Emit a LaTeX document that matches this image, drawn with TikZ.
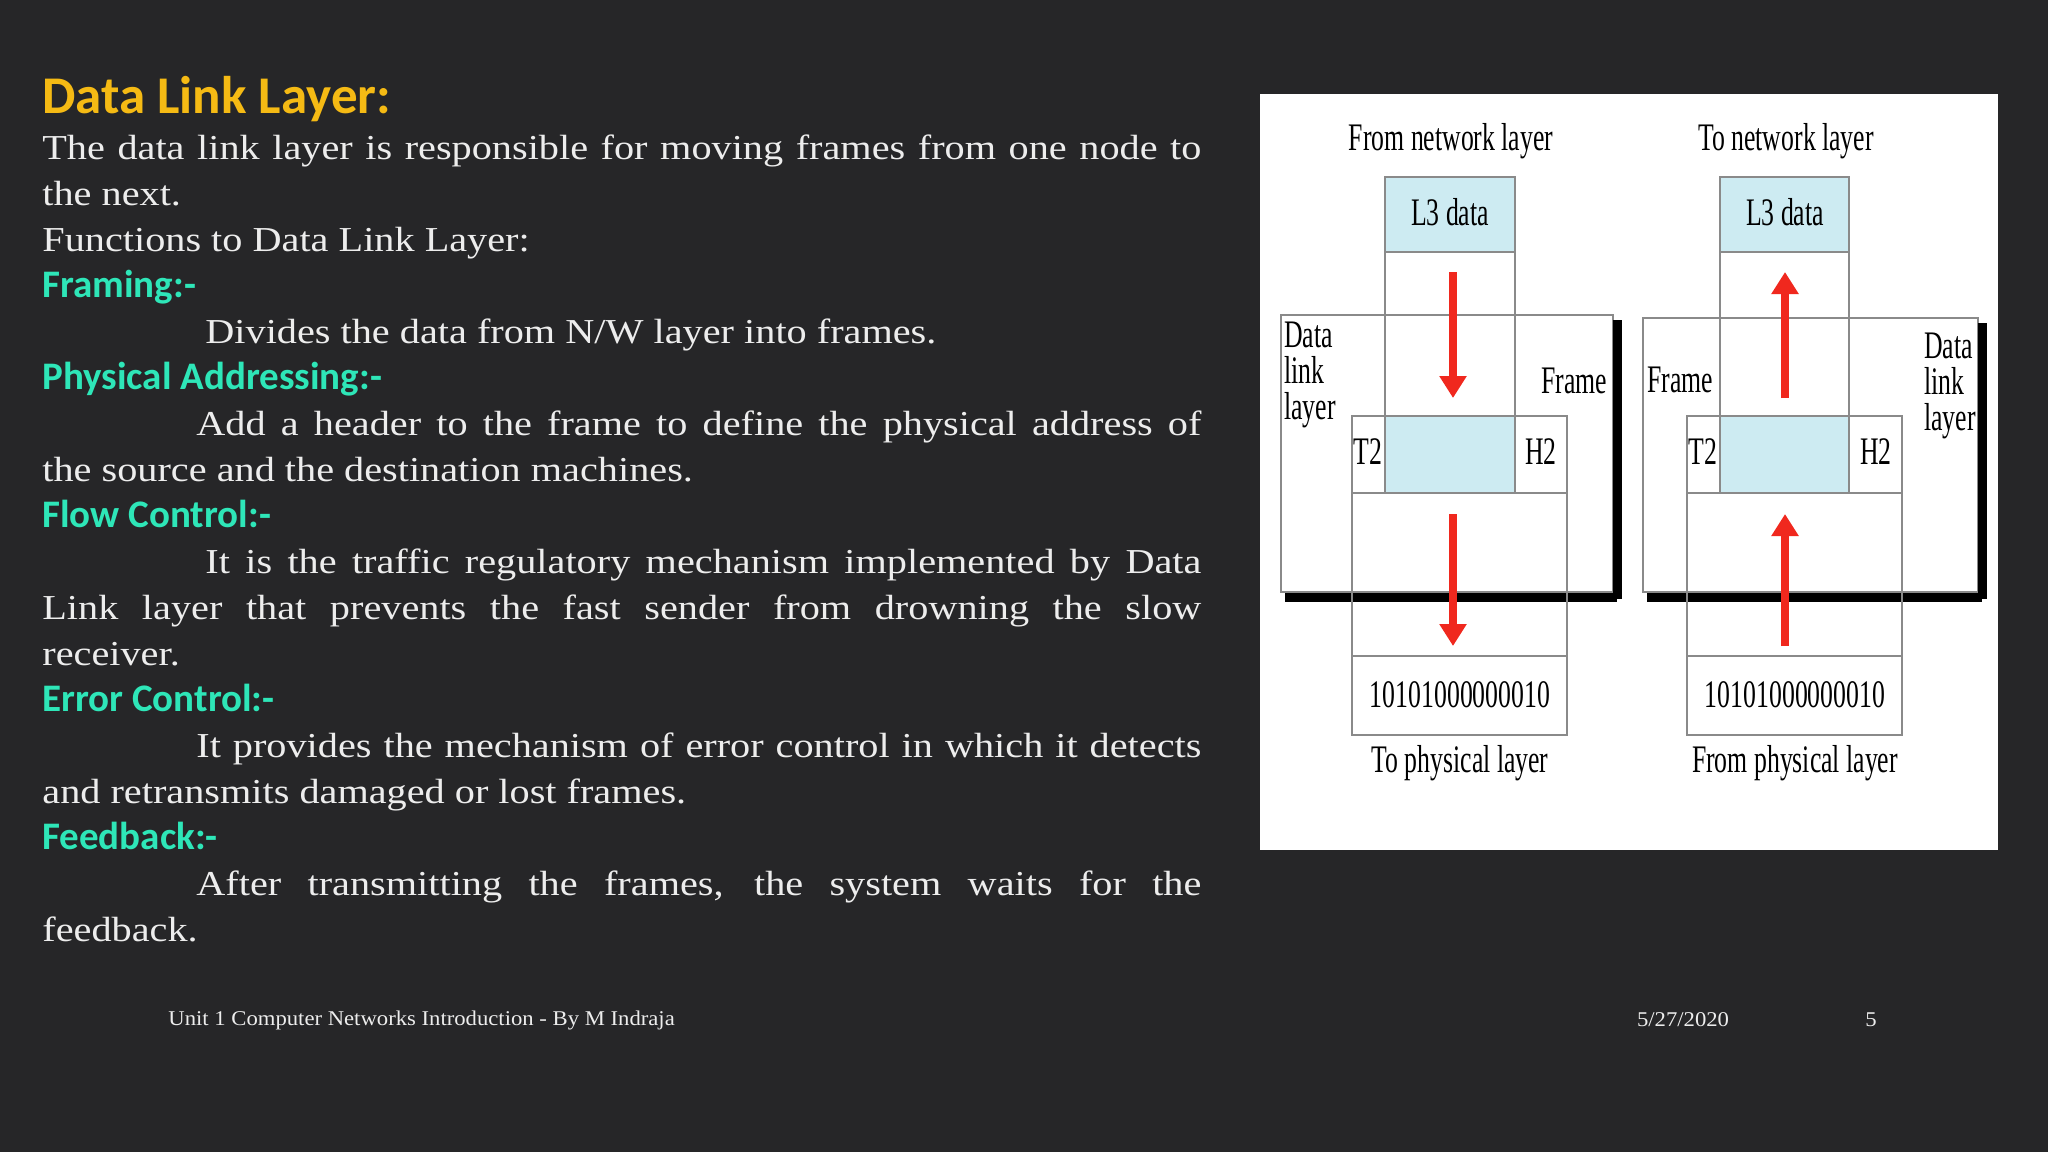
\documentclass[tikz,border=0pt]{standalone}
\usepackage{fontspec}
\setmainfont{Liberation Serif}
\newfontfamily\headf{Carlito}
\newfontfamily\bodyf[FakeStretch=1.15]{Liberation Serif}
\newfontfamily\footf[FakeStretch=1.08]{Liberation Serif}
\usetikzlibrary{arrows.meta}
\definecolor{bgc}{HTML}{262628}
\definecolor{titlec}{HTML}{F5BA14}
\definecolor{headc}{HTML}{2EE6B8}
\definecolor{bodyc}{HTML}{EDEDED}
\definecolor{lblue}{HTML}{CDEBF2}
\definecolor{boxl}{HTML}{8A8A8A}
\definecolor{redar}{HTML}{F0281E}
\tikzset{
  dlab/.style={font=\fontsize{19.5}{19.5}\selectfont, xscale=0.66, text=black, inner sep=0pt},
  gbox/.style={draw=boxl, line width=0.6pt},
  redarrow/.style={draw=redar, line width=4pt, -{Triangle[width=13pt,length=11pt]}},
  shadowline/.style={line width=4.5pt, black}
}
\newcommand{\hd}[1]{{\headf\bfseries\color{headc}\fontsize{19.5}{23}\selectfont#1}}
\begin{document}
\begin{tikzpicture}[x=0.5pt,y=-0.5pt]
\fill[bgc] (0,0) rectangle (2048,1152);
\useasboundingbox (0,0) rectangle (2048,1152);
% slide text
\node (txt) [anchor=north west, inner sep=0pt, text width=579.5pt, align=justify, text=bodyc,
  font=\bodyf\fontsize{17.5}{23}\selectfont] at (42,76) {%
{\headf\bfseries\color{titlec}\fontsize{26.5}{27}\selectfont Data Link Layer:}\par
The data link layer is responsible for moving frames from one node to\linebreak the next.\par
Functions to Data Link Layer:\par
\hd{Framing:-}\par
\hspace*{81.5pt}Divides the data from N/W layer into frames.\par
\hd{Physical Addressing:-}\par
\hspace*{77pt}Add a header to the frame to define the physical address of\linebreak the source and the destination machines.\par
\hd{Flow Control:-}\par
\hspace*{81.5pt}It is the traffic regulatory mechanism implemented by Data\linebreak Link layer that prevents the fast sender from drowning the slow\linebreak receiver.\par
\hd{Error Control:-}\par
\hspace*{77pt}It provides the mechanism of error control in which it detects\linebreak and retransmits damaged or lost frames.\par
\hd{Feedback:-}\par
\hspace*{77pt}After transmitting the frames, the system waits for the\linebreak feedback.\par};
% footer
\node (foot) [anchor=west, text=bodyc, font=\footf\fontsize{10.5}{12}\selectfont, inner sep=0pt] at (168,1020) {Unit 1 Computer Networks Introduction - By M Indraja};
\node (date) [text=bodyc, font=\footf\fontsize{10.5}{12}\selectfont, inner sep=0pt] at (1683,1020) {5/27/2020};
\node (pg) [text=bodyc, font=\footf\fontsize{10.5}{12}\selectfont, inner sep=0pt] at (1871,1020) {5};
% panel
\fill[white] (1260,94) rectangle (1998,850);
% ---------- left diagram ----------
\draw[gbox, fill=white] (1281,315) rectangle (1613,592);
\draw[shadowline] (1285,597) -- (1617,597);
\draw[shadowline] (1617,320) -- (1617,599);
\draw[gbox, fill=lblue] (1385,177) rectangle (1515,252);
\draw[gbox] (1385,252) -- (1385,416) (1515,252) -- (1515,416);
\draw[gbox, fill=white] (1352,416) rectangle (1567,493);
\fill[lblue] (1385,416) rectangle (1515,493);
\draw[gbox] (1385,416) -- (1385,493) (1515,416) -- (1515,493) (1352,416) rectangle (1567,493);
\draw[gbox] (1352,493) -- (1352,656) (1567,493) -- (1567,656);
\draw[gbox] (1352,656) rectangle (1567,735);
\node (lfrom) [dlab] at (1451,141) {From network layer};
\node (ll3) [dlab] at (1450,212) {L3 data};
\node (ldll) [dlab, align=left, anchor=north west, font=\fontsize{19.5}{18}\selectfont] at (1284,322) {Data\\link\\layer};
\node (lframe) [dlab] at (1574,381) {Frame};
\node (lt2) [dlab] at (1368,452) {T2};
\node (lh2) [dlab] at (1541,452) {H2};
\node (lbits) [dlab] at (1460,695) {10101000000010};
\node (lto) [dlab] at (1460,763) {To physical layer};
\coordinate (la1) at (1453,272); \coordinate (la2) at (1453,398);
\coordinate (la3) at (1453,514); \coordinate (la4) at (1453,646);
\draw[redarrow] (la1) -- (la2);
\draw[redarrow] (la3) -- (la4);
% ---------- right diagram ----------
\draw[gbox, fill=white] (1643,318) rectangle (1978,592);
\draw[shadowline] (1647,597) -- (1982,597);
\draw[shadowline] (1982,323) -- (1982,599);
\draw[gbox, fill=lblue] (1720,177) rectangle (1849,252);
\draw[gbox] (1720,252) -- (1720,416) (1849,252) -- (1849,416);
\draw[gbox, fill=white] (1687,416) rectangle (1902,493);
\fill[lblue] (1720,416) rectangle (1849,493);
\draw[gbox] (1720,416) -- (1720,493) (1849,416) -- (1849,493) (1687,416) rectangle (1902,493);
\draw[gbox] (1687,493) -- (1687,656) (1902,493) -- (1902,656);
\draw[gbox] (1687,656) rectangle (1902,735);
\node (rto) [dlab] at (1786,141) {To network layer};
\node (rl3) [dlab] at (1785,212) {L3 data};
\node (rdll) [dlab, align=left, anchor=north east, font=\fontsize{19.5}{18}\selectfont] at (1976,333) {Data\\link\\layer};
\node (rframe) [dlab] at (1680,380) {Frame};
\node (rt2) [dlab] at (1703,452) {T2};
\node (rh2) [dlab] at (1876,452) {H2};
\node (rbits) [dlab] at (1795,695) {10101000000010};
\node (rfrom) [dlab] at (1795,763) {From physical layer};
\coordinate (ra1) at (1785,398); \coordinate (ra2) at (1785,272);
\coordinate (ra3) at (1785,646); \coordinate (ra4) at (1785,514);
\draw[redarrow] (ra1) -- (ra2);
\draw[redarrow] (ra3) -- (ra4);
\end{tikzpicture}
\end{document}
